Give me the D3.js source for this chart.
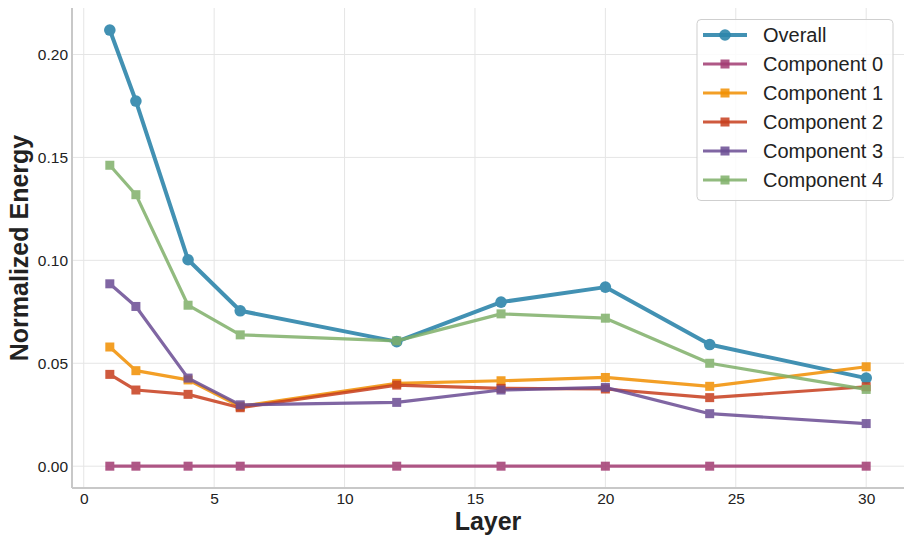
<!DOCTYPE html>
<html>
<head>
<meta charset="utf-8">
<script src="https://cdn.jsdelivr.net/npm/d3@7"></script>
<style>
  body { margin: 0; background: #fff; }
  svg { display: block; font-family: 'Liberation Sans', Arial, sans-serif; }
</style>
</head>
<body>
<svg id="chart"></svg>
<script>
let width = 913
let height = 544
let margin = ({ top: 8, right: 9, bottom: 56, left: 72 })

// data
let layers = [1, 2, 4, 6, 12, 16, 20, 24, 30]
let overall = [0.2119, 0.1774, 0.1003, 0.0755, 0.0605, 0.0797, 0.0870, 0.0591, 0.0428]
let comp0 = [0, 0, 0, 0, 0, 0, 0, 0, 0]
let comp1 = [0.0579, 0.0464, 0.0419, 0.0290, 0.0402, 0.0415, 0.0431, 0.0388, 0.0483]
let comp2 = [0.0446, 0.0370, 0.0349, 0.0284, 0.0394, 0.0378, 0.0375, 0.0333, 0.0386]
let comp3 = [0.0886, 0.0776, 0.0428, 0.0298, 0.0310, 0.0370, 0.0383, 0.0255, 0.0207]
let comp4 = [0.1462, 0.1319, 0.0782, 0.0638, 0.0609, 0.0740, 0.0719, 0.0500, 0.0373]
let seriesNames = ['Overall', 'Component 0', 'Component 1', 'Component 2', 'Component 3', 'Component 4']
let xTicks = [0, 5, 10, 15, 20, 25, 30]
let yTicks = [0, 0.05, 0.10, 0.15, 0.20]

let colors = ['#2E86AB', '#A23B72', '#F18F01', '#C73E1D', '#6A4C93', '#7FB069']

let series = [overall, comp0, comp1, comp2, comp3, comp4].map((vals, i) => ({
	name: seriesNames[i],
	color: colors[i],
	overall: i === 0,
	points: vals.map((v, j) => ({ x: layers[j], y: v }))
}))

let x = d3.scaleLinear().domain([-0.45, 31.45]).range([margin.left, width - margin.right])
let y = d3.scaleLinear().domain([-0.0106, 0.2226]).range([height - margin.bottom, margin.top])

let svg = d3.select('#chart')
	.attr('width', width)
	.attr('height', height)

// grid
svg.append('g')
	.selectAll('line')
	.data(xTicks)
	.join('line')
	.attr('x1', d => x(d)).attr('x2', d => x(d))
	.attr('y1', margin.top).attr('y2', height - margin.bottom)
	.attr('stroke', '#e5e5e5')
	.attr('stroke-width', 1)

svg.append('g')
	.selectAll('line')
	.data(yTicks)
	.join('line')
	.attr('x1', margin.left).attr('x2', width - margin.right)
	.attr('y1', d => y(d)).attr('y2', d => y(d))
	.attr('stroke', '#e5e5e5')
	.attr('stroke-width', 1)

// axes (labels only, no tick marks)
let xAxis = svg.append('g')
	.attr('transform', `translate(0,${height - margin.bottom})`)
	.call(d3.axisBottom(x).tickValues(xTicks).tickFormat(d3.format('d')).tickSize(0).tickPadding(5))
xAxis.select('.domain').remove()

let yAxis = svg.append('g')
	.attr('transform', `translate(${margin.left},0)`)
	.call(d3.axisLeft(y).tickValues(yTicks).tickFormat(d3.format('.2f')).tickSize(0).tickPadding(4))
yAxis.select('.domain').remove()

svg.selectAll('.tick text')
	.attr('fill', '#222')
	.style('font-size', '15.5px')
	.style('font-family', "'Liberation Sans', Arial, sans-serif")

// spines
svg.append('line')
	.attr('x1', margin.left).attr('x2', margin.left)
	.attr('y1', margin.top).attr('y2', height - margin.bottom)
	.attr('stroke', '#c8c8c8').attr('stroke-width', 2)
svg.append('line')
	.attr('x1', margin.left).attr('x2', width - margin.right)
	.attr('y1', height - margin.bottom).attr('y2', height - margin.bottom)
	.attr('stroke', '#c8c8c8').attr('stroke-width', 2)

// lines + markers
let line = d3.line().x(d => x(d.x)).y(d => y(d.y))

series.forEach(s => {
	let g = svg.append('g').attr('opacity', s.overall ? 0.9 : 0.85)
	g.append('path')
		.datum(s.points)
		.attr('d', line)
		.attr('fill', 'none')
		.attr('stroke', s.color)
		.attr('stroke-width', s.overall ? 4 : 3.2)
		.attr('stroke-linejoin', 'round')
	if (s.overall) {
		g.selectAll('circle')
			.data(s.points)
			.join('circle')
			.attr('cx', d => x(d.x))
			.attr('cy', d => y(d.y))
			.attr('r', 5.8)
			.attr('fill', s.color)
	} else {
		let sz = 9
		g.selectAll('rect')
			.data(s.points)
			.join('rect')
			.attr('x', d => x(d.x) - sz / 2)
			.attr('y', d => y(d.y) - sz / 2)
			.attr('width', sz)
			.attr('height', sz)
			.attr('fill', s.color)
	}
})

// axis titles
svg.append('text')
	.attr('x', (margin.left + width - margin.right) / 2)
	.attr('y', 530)
	.attr('text-anchor', 'middle')
	.style('font-size', '25px')
	.style('font-weight', 'bold')
	.attr('fill', '#222')
	.text('Layer')

svg.append('text')
	.attr('transform', `translate(28,${(margin.top + height - margin.bottom) / 2}) rotate(-90)`)
	.attr('text-anchor', 'middle')
	.style('font-size', '25px')
	.style('font-weight', 'bold')
	.attr('fill', '#222')
	.text('Normalized Energy')

// legend
let lg = svg.append('g').attr('transform', 'translate(697,19.5)')
lg.append('rect')
	.attr('width', 196).attr('height', 181)
	.attr('rx', 4)
	.attr('fill', 'rgba(255,255,255,0.85)')
	.attr('stroke', '#cfcfcf')
	.attr('stroke-width', 1)

let item = lg.selectAll('g.item')
	.data(series)
	.join('g')
	.attr('class', 'item')
	.attr('transform', (d, i) => `translate(0,${15.5 + i * 29})`)

item.append('line')
	.attr('x1', 6).attr('x2', 50)
	.attr('stroke', d => d.color)
	.attr('stroke-width', d => d.overall ? 4 : 3.2)
	.attr('opacity', d => d.overall ? 0.9 : 0.85)

item.each(function (d) {
	let g = d3.select(this)
	if (d.overall) {
		g.append('circle').attr('cx', 28).attr('r', 5.8).attr('fill', d.color).attr('opacity', 0.9)
	} else {
		g.append('rect').attr('x', 28 - 4.5).attr('y', -4.5).attr('width', 9).attr('height', 9)
			.attr('fill', d.color).attr('opacity', 0.85)
	}
})

item.append('text')
	.attr('x', 66)
	.attr('dy', '0.35em')
	.style('font-size', '20px')
	.attr('fill', '#222')
	.text(d => d.name)
</script>
</body>
</html>
